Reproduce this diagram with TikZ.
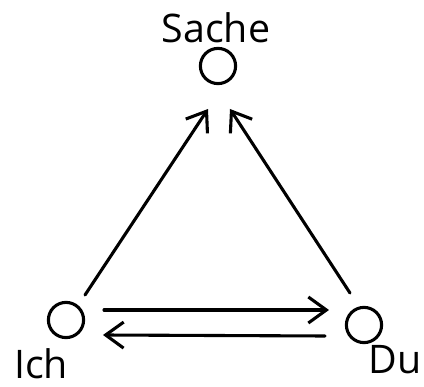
\documentclass[tikz,border=0pt]{standalone}
\usepackage{fontspec}
\setmainfont{Open Sans}
\usetikzlibrary{arrows.meta,calc}

\begin{document}
\begin{tikzpicture}[
  x=0.025cm, y=-0.025cm,
  line width=2.2pt,
  pole/.style={draw, circle, minimum size=0.88cm, inner sep=0pt, line width=2.2pt},
  polename/.style={font=\fontsize{28}{32}\selectfont, inner sep=0pt},
  arr/.style={-{Straight Barb[length=4.5mm, width=6.5mm, line width=2.2pt]}, line cap=round}
]
\useasboundingbox (0,0) rectangle (424,387);

% the three poles
\node[pole] (sache) at (218,66) {};
\node[pole] (ich) at (66,320) {};
\node[pole] (du) at (364,325) {};

% names
\node[polename] (sachelbl) at (216,28) {Sache};
\node[polename, anchor=base] (ichlbl) at (41,379) {Ich};
\node[polename, anchor=base east] (dulbl) at (423,374) {Du};

% arrows towards the thing
\draw[arr] ($(ich)+(19,-25)$) -- ($(sache)+(-10,43)$);
\draw[arr] ($(du)+(-14,-32)$) -- ($(sache)+(12,43)$);

% exchange between the two
\draw[arr] ($(ich)+(38,-10)$) -- ($(du)+(-35,-15)$);
\draw[arr] ($(du)+(-39,11)$) -- ($(ich)+(37,15)$);
\end{tikzpicture}
\end{document}
